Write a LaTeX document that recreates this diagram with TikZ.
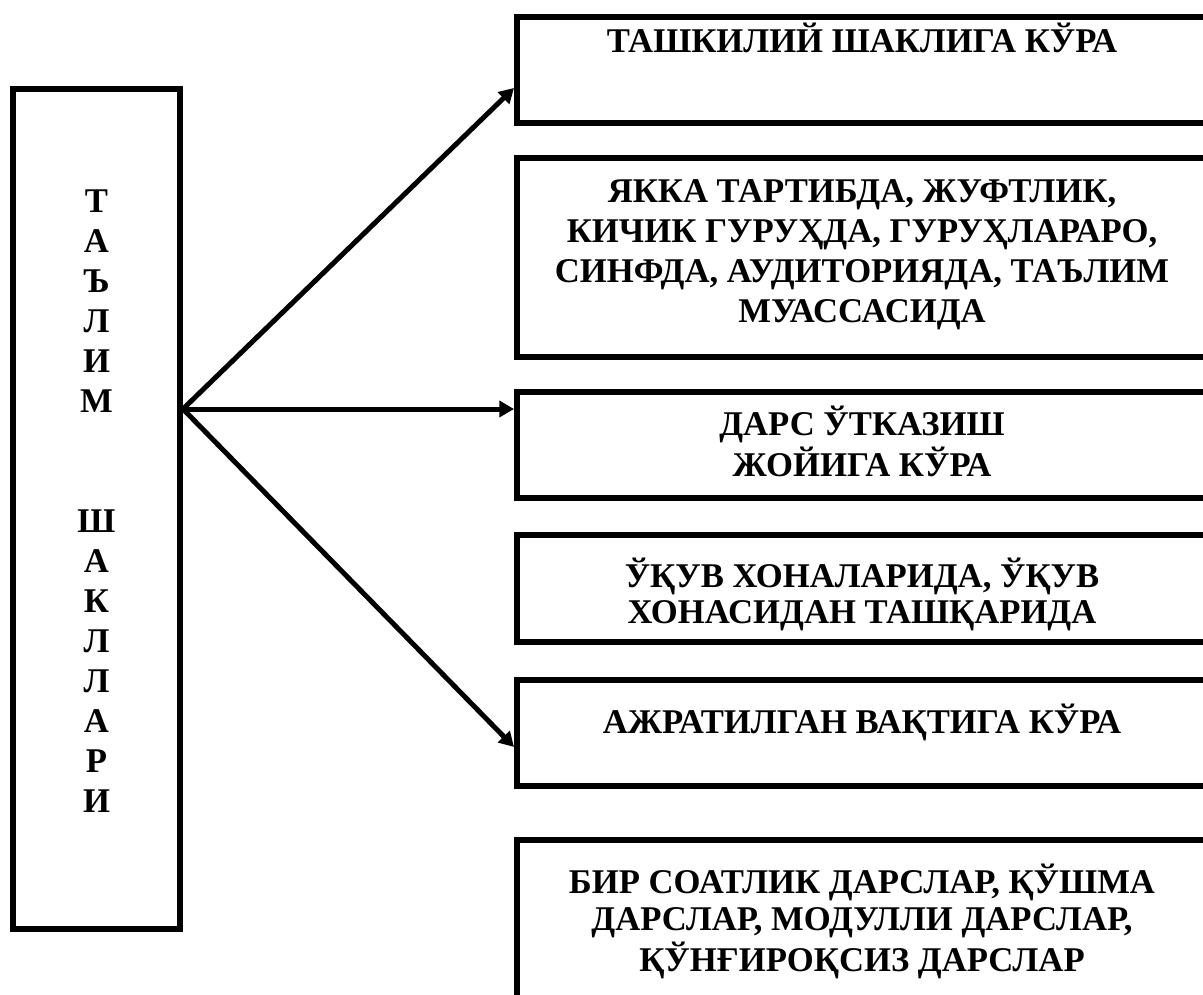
\documentclass[tikz,border=0pt]{standalone}
\usepackage{fontspec}
\setmainfont{Liberation Serif}
\usetikzlibrary{arrows.meta}
\begin{document}
\begin{tikzpicture}[x=0.75pt,y=-0.75pt,
  box/.style={draw, line width=4.5pt, rectangle, inner sep=0pt, minimum width=518.25pt},
  lbl/.style={inner sep=0pt, anchor=base, font=\bfseries},
  conn/.style={line width=3.75pt, -{Triangle[length=11pt,width=12pt]}}]
\useasboundingbox (0,0) rectangle (1203,995);
\clip (0,0) rectangle (1203,995);
% left box
\node[box, minimum width=125.25pt, minimum height=630pt] (L) at (96.5,509) {};
\node[lbl] (lt) at (96.5,213) {\fontsize{26}{30}\selectfont\begin{tabular}[t]{@{}c@{}}Т\\А\\Ъ\\Л\\И\\М\\ \\ \\Ш\\А\\К\\Л\\Л\\А\\Р\\И\end{tabular}};
% right boxes
\node[box, minimum height=79.5pt] (b1) at (862.5,70) {};
\node[box, minimum height=149.25pt] (b2) at (862.5,257.5) {};
\node[box, minimum height=79.5pt] (b3) at (862.5,445) {};
\node[box, minimum height=80.25pt] (b4) at (862.5,588.5) {};
\node[box, minimum height=79.5pt] (b5) at (862.5,733) {};
\node[box, minimum height=127.5pt] (b6) at (862.5,925) {};
% texts
\node[lbl] (t1) at (862,53) {\fontsize{26}{29}\selectfont ТАШКИЛИЙ ШАКЛИГА КЎРА};
\node[lbl] (t2) at (862,203) {\fontsize{26}{29.8}\selectfont\begin{tabular}[t]{@{}c@{}}ЯККА ТАРТИБДА, ЖУФТЛИК,\\КИЧИК ГУРУҲДА, ГУРУҲЛАРАРО,\\СИНФДА, АУДИТОРИЯДА, ТАЪЛИМ\\МУАССАСИДА\end{tabular}};
\node[lbl] (t3) at (862,435) {\fontsize{26}{30.75}\selectfont\begin{tabular}[t]{@{}c@{}}ДАРС ЎТКАЗИШ\\ЖОЙИГА КЎРА\end{tabular}};
\node[lbl] (t4) at (862,587) {\fontsize{26}{27}\selectfont\begin{tabular}[t]{@{}c@{}}ЎҚУВ ХОНАЛАРИДА, ЎҚУВ\\ХОНАСИДАН ТАШҚАРИДА\end{tabular}};
\node[lbl] (t5) at (862,733) {\fontsize{26}{29}\selectfont АЖРАТИЛГАН ВАҚТИГА КЎРА};
\node[lbl] (t6) at (862,893) {\fontsize{26}{28}\selectfont\begin{tabular}[t]{@{}c@{}}БИР СОАТЛИК ДАРСЛАР, ҚЎШМА\\ДАРСЛАР, МОДУЛЛИ ДАРСЛАР,\\ҚЎНҒИРОҚСИЗ ДАРСЛАР\end{tabular}};
% connectors
\coordinate (o) at (L.east |- 0,409);
\coordinate (e1) at (b1.west |- 0,88);
\coordinate (e3) at (b3.west |- 0,409);
\coordinate (e5) at (b5.west |- 0,747);
\draw[conn] (o) -- (e1);
\draw[conn] (o) -- (e3);
\draw[conn] (o) -- (e5);
\end{tikzpicture}
\end{document}
